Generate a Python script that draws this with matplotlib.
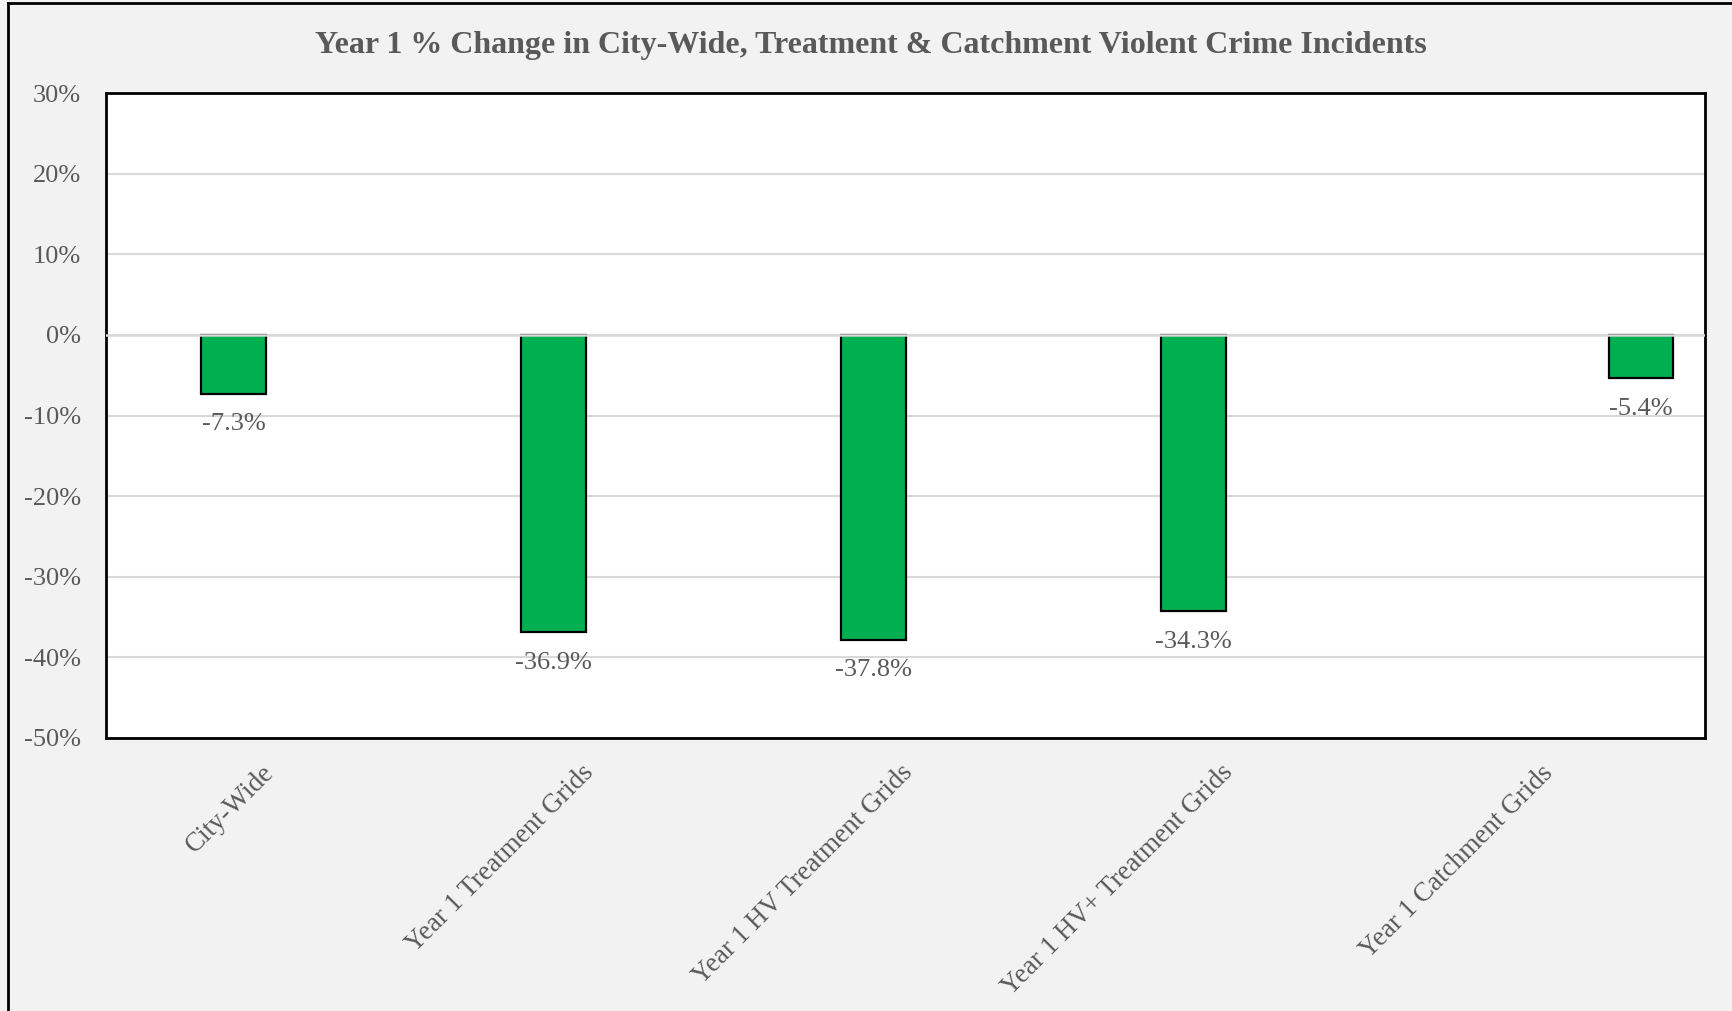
import matplotlib
matplotlib.use("Agg")
import matplotlib.pyplot as plt
import matplotlib.transforms as mtransforms
from matplotlib.lines import Line2D

# values are percent change, year 1 vs. baseline
categories = ["City-Wide", "Year 1 Treatment Grids", "Year 1 HV Treatment Grids",
              "Year 1 HV+ Treatment Grids", "Year 1 Catchment Grids"]
pct_change = [-7.3, -36.9, -37.8, -34.3, -5.4]
labels = ["-7.3%", "-36.9%", "-37.8%", "-34.3%", "-5.4%"]
y_ticks = [30, 20, 10, 0, -10, -20, -30, -40, -50]

# each bar sits in its own series slot within the category
slot_offset = [-0.1, -0.1, -0.1, -0.1, 0.3]

TEXT = "#595959"
GREEN = "#00B050"
GRID = "#D9D9D9"

plt.rcParams["font.family"] = ["Liberation Serif", "DejaVu Serif"]

fig = plt.figure(figsize=(17.32, 10.11), dpi=100, facecolor="#F2F2F2")
W, H = 1732, 1011
ax = fig.add_axes([106 / W, 1 - 738 / H, (1705 - 106) / W, (738 - 93) / H])
ax.set_facecolor("white")

xs = [i + off for i, off in enumerate(slot_offset)]
ax.bar(xs, pct_change, width=0.203, color=GREEN, edgecolor="black", linewidth=1.6, zorder=2)

for x, v, s in zip(xs, pct_change, labels):
    ax.annotate(s, (x, v), xytext=(0, -22), textcoords="offset points",
                ha="center", va="center", fontsize=19, color=TEXT)

ax.set_xlim(-0.5, 4.5)
ax.set_ylim(-50, 30)
ax.set_yticks(y_ticks)
ax.set_yticklabels([f"{t}%" for t in y_ticks], fontsize=19, color=TEXT)
ax.yaxis.grid(True, color=GRID, linewidth=1.5, zorder=1)
ax.set_axisbelow(True)
ax.axhline(0, color=GRID, linewidth=1.8, zorder=3)
ax.tick_params(axis="both", length=0)
ax.tick_params(axis="y", pad=18)

ax.set_xticks(range(len(categories)))
ax.set_xticklabels(categories, rotation=45, ha="right", rotation_mode="anchor",
                   fontsize=19.5, color=TEXT)
ax.tick_params(axis="x", pad=16)
shift = mtransforms.ScaledTranslation(-5 / 100, 0, fig.dpi_scale_trans)
for lbl in ax.get_xticklabels():
    lbl.set_transform(lbl.get_transform() + shift)

for sp in ax.spines.values():
    sp.set_color("black")
    sp.set_linewidth(2)

fig.text(0.503, 1 - 46 / H, "Year 1 % Change in City-Wide, Treatment & Catchment Violent Crime Incidents",
         ha="center", va="center", fontsize=23, fontweight="bold", color=TEXT)

# outer chart frame (left and top edges)
fig.add_artist(Line2D([8 / W, 8 / W], [0, 1 - 3 / H], color="black", linewidth=2,
                      transform=fig.transFigure))
fig.add_artist(Line2D([8 / W, 1], [1 - 3 / H, 1 - 3 / H], color="black", linewidth=2,
                      transform=fig.transFigure))

fig.savefig("out.png", dpi=100, facecolor=fig.get_facecolor())
